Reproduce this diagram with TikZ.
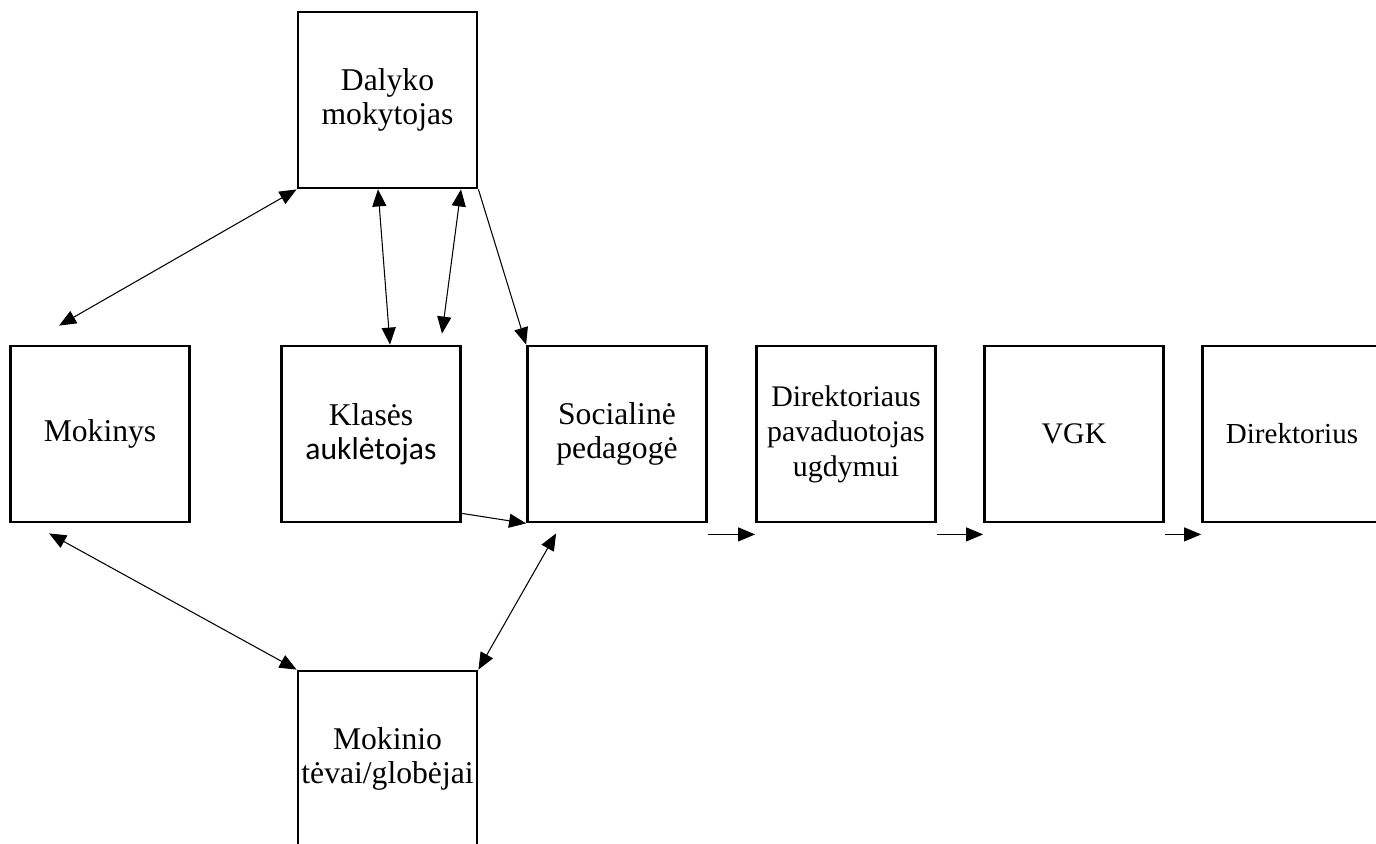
\documentclass[tikz,border=0pt]{standalone}
\usepackage{fontspec}
\setmainfont{Liberation Serif}
\newfontfamily\calibri{Carlito}
\usetikzlibrary{arrows.meta}

\begin{document}
\begin{tikzpicture}[>={Triangle[length=0.34cm,width=0.28cm]}, every node/.style={font=\fontsize{18}{19.5}\selectfont}]
	\tikzstyle{box} = [rectangle,draw,line width=1.6pt,minimum width=3.58cm,minimum height=3.52cm,inner sep=0pt,align=center]
	\tikzstyle{ar} = [line width=0.6pt]
	\useasboundingbox (0,0) rectangle (27.52,-16.86);
	
	\node[box](dm) at (7.75,-2.0){Dalyko\\mokytojas};
	
	\node[box](mk) at (2.0,-8.68){Mokinys};
	\node[box](ka) at (7.42,-8.68){Klasės\\{\calibri auklėtojas}};
	\node[box](sp) at (12.34,-8.68){Socialinė\\pedagogė};
	\node[box,font=\fontsize{17}{20}\selectfont](dp) at (16.92,-8.68){Direktoriaus\\pavaduotojas\\ugdymui};
	\node[box,font=\fontsize{17}{19}\selectfont](vgk) at (21.48,-8.68){VGK};
	\node[box,font=\fontsize{16.5}{19}\selectfont](dir) at (25.84,-8.68){Direktorius};
	
	\node[box](mt) at (7.75,-15.18){Mokinio\\tėvai/globėjai};
	
	\path[<->,ar] ([xshift=1cm,yshift=0.38cm]mk.north west) edge (dm.south west)
	([xshift=-0.19cm]dm.south) edge ([xshift=0.38cm]ka.north)
	([xshift=1.47cm]dm.south) edge ([xshift=1.42cm,yshift=0.22cm]ka.north)
	([xshift=0.8cm,yshift=-0.2cm]mk.south west) edge (mt.north west)
	([xshift=0.6cm,yshift=-0.2cm]sp.south west) edge (mt.north east);
	
	\path[->,ar] (dm.south east) edge (sp.north west)
	([yshift=0.2cm]ka.south east) edge (sp.south west);
	
	\foreach \a/\b in {sp/dp,dp/vgk,vgk/dir}{
		\path[->,ar] ([yshift=-0.22cm]\a.south east) edge ([yshift=-0.22cm]\b.south west);
	};
\end{tikzpicture}
\end{document}
